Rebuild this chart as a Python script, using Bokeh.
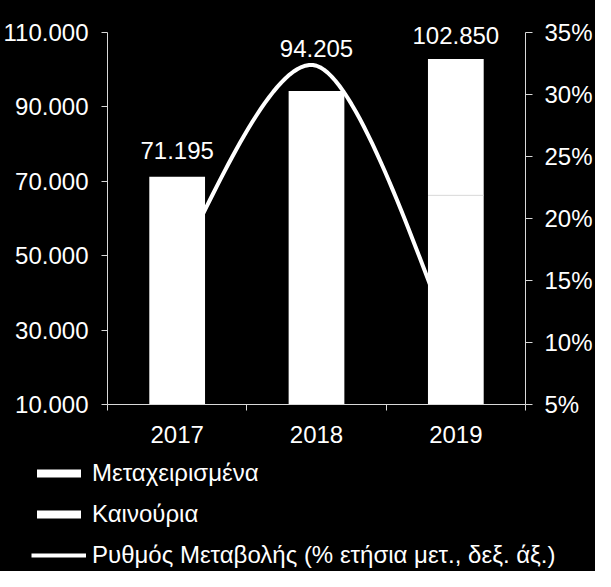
import numpy as np
from bokeh.plotting import figure
from bokeh.layouts import column, row
from bokeh.models import (Range1d, LinearAxis, FixedTicker, Label, Legend,
                          LegendItem)
from bokeh.embed import file_html
from bokeh.resources import INLINE

# data
years = ["2017", "2018", "2019"]
used = [71195, 94205, 66200]      # Μεταχειρισμένα
new = [0, 0, 36650]               # Καινούρια
growth = [16.5, 32.3, 9.5]        # % ετήσια μεταβολή (δεξ. άξονας)
left_ticks = [10000, 30000, 50000, 70000, 90000, 110000]
right_ticks = [5, 10, 15, 20, 25, 30, 35]
legend_labels = ["Μεταχειρισμένα", "Καινούρια",
                 "Ρυθμός Μεταβολής (% ετήσια μετ., δεξ. άξ.)"]

FONT = "Liberation Sans"
FS = "24px"
AX = "#d9d9d9"

x = np.arange(len(years))
totals = [u + n for u, n in zip(used, new)]


def dotfmt(v):
    return "{:,}".format(v).replace(",", ".")


# frame is taller than the axes so the top value label is not clipped
y_top = 118000
pct_top = 5 + (y_top - 10000) * 30 / 100000

p = figure(width=595, height=451, output_backend="svg", toolbar_location=None,
           x_range=Range1d(-0.5, 2.5), y_range=Range1d(10000, y_top),
           min_border_left=107, min_border_right=68, min_border_top=2,
           min_border_bottom=47)
p.background_fill_color = "black"
p.border_fill_color = "black"
p.outline_line_color = None
p.grid.visible = False
p.xaxis.visible = False
p.yaxis.visible = False

p.extra_y_ranges = {"pct": Range1d(5, pct_top)}

# bars (stacked, both white)
p.vbar(x=x, width=0.4, bottom=0, top=used, fill_color="white", line_color=None)
p.vbar(x=x, width=0.4, bottom=used, top=totals, fill_color="white",
       line_color=None)
seam_x = [xi for xi, n in zip(x, new) if n > 0]
seam_y = [u for u, n in zip(used, new) if n > 0]
p.segment(x0=[s - 0.2 for s in seam_x], y0=seam_y,
          x1=[s + 0.2 for s in seam_x], y1=seam_y,
          line_color="#e2e2e2", line_width=1)

# smoothed line (bezier through the points, like a spreadsheet smooth line)
pts = list(zip(x.astype(float), growth))
ext = [pts[0]] + pts + [pts[-1]]
t = np.linspace(0, 1, 40)[:, None]
curve = []
for i in range(len(pts) - 1):
    pm, a, b, pn = [np.array(q) for q in ext[i:i + 4]]
    c1 = a + (b - pm) / 6
    c2 = b - (pn - a) / 6
    seg = ((1 - t) ** 3 * a + 3 * (1 - t) ** 2 * t * c1
           + 3 * (1 - t) * t ** 2 * c2 + t ** 3 * b)
    curve.append(seg if i == 0 else seg[1:])
curve = np.vstack(curve)
p.line(curve[:, 0], curve[:, 1], line_color="white", line_width=4,
       line_join="round", y_range_name="pct")


# axes
def style_axis(ax):
    ax.axis_line_color = AX
    ax.major_tick_line_color = AX
    ax.minor_tick_line_color = AX
    ax.major_label_text_color = "white"
    ax.major_label_text_font = FONT
    ax.major_label_text_font_size = FS


yl = LinearAxis(ticker=FixedTicker(ticks=left_ticks),
                bounds=(left_ticks[0], left_ticks[-1]),
                major_label_overrides={t: dotfmt(t) for t in left_ticks})
style_axis(yl)
yl.major_tick_out = 6
yl.major_tick_in = 0
yl.minor_tick_out = 0
yl.major_label_standoff = 13
p.add_layout(yl, "left")

yr = LinearAxis(y_range_name="pct", ticker=FixedTicker(ticks=right_ticks),
                bounds=(right_ticks[0], right_ticks[-1]),
                major_label_overrides={t: "%d%%" % t for t in right_ticks})
style_axis(yr)
yr.major_tick_out = 7
yr.major_tick_in = 0
yr.minor_tick_out = 0
yr.major_label_standoff = 12
p.add_layout(yr, "right")

xa = LinearAxis(ticker=FixedTicker(ticks=list(x),
                                   minor_ticks=[-0.5, 0.5, 1.5, 2.5]),
                major_label_overrides={int(i): y for i, y in zip(x, years)})
style_axis(xa)
xa.major_tick_out = 0
xa.major_tick_in = 0
xa.minor_tick_out = 6
xa.minor_tick_in = 0
xa.major_label_standoff = 15
p.add_layout(xa, "below")

# data labels
label_lift = [26, 43, 23]
for xi, tot, dy in zip(x, totals, label_lift):
    p.add_layout(Label(x=float(xi), y=tot, y_offset=dy, text=dotfmt(tot),
                       text_align="center", text_baseline="alphabetic",
                       text_color="white", text_font=FONT,
                       text_font_size=FS))

# legend in its own strip below the chart
lg = figure(width=595, height=120, output_backend="svg", toolbar_location=None,
            x_range=Range1d(0, 1), y_range=Range1d(0, 1),
            min_border_left=0, min_border_right=0, min_border_top=0,
            min_border_bottom=0)
lg.background_fill_color = "black"
lg.border_fill_color = "black"
lg.outline_line_color = None
lg.axis.visible = False
lg.grid.visible = False
# keyed glyphs sit outside the visible ranges
r1 = lg.vbar(x=[5], top=[5], bottom=[4], width=0.1, fill_color="white",
             line_color=None)
r2 = lg.vbar(x=[5], top=[5], bottom=[4], width=0.1, fill_color="white",
             line_color=None)
r3 = lg.line(x=[5, 6], y=[5, 5], line_color="white", line_width=4)

legend = Legend(items=[LegendItem(label=lab, renderers=[r])
                       for lab, r in zip(legend_labels, [r1, r2, r3])],
                location=(31, 2))
legend.background_fill_alpha = 0
legend.border_line_color = None
legend.label_text_color = "white"
legend.label_text_font = FONT
legend.label_text_font_size = FS
legend.glyph_width = 55
legend.glyph_height = 10
legend.label_height = 24
legend.label_standoff = 6
legend.spacing = 13
legend.padding = 0
legend.margin = 0
lg.add_layout(legend, "center")

black = {"background-color": "black"}
layout = column(p, row(lg, styles=black), spacing=0, styles=black)
open("out.html", "w").write(file_html(layout, INLINE))
